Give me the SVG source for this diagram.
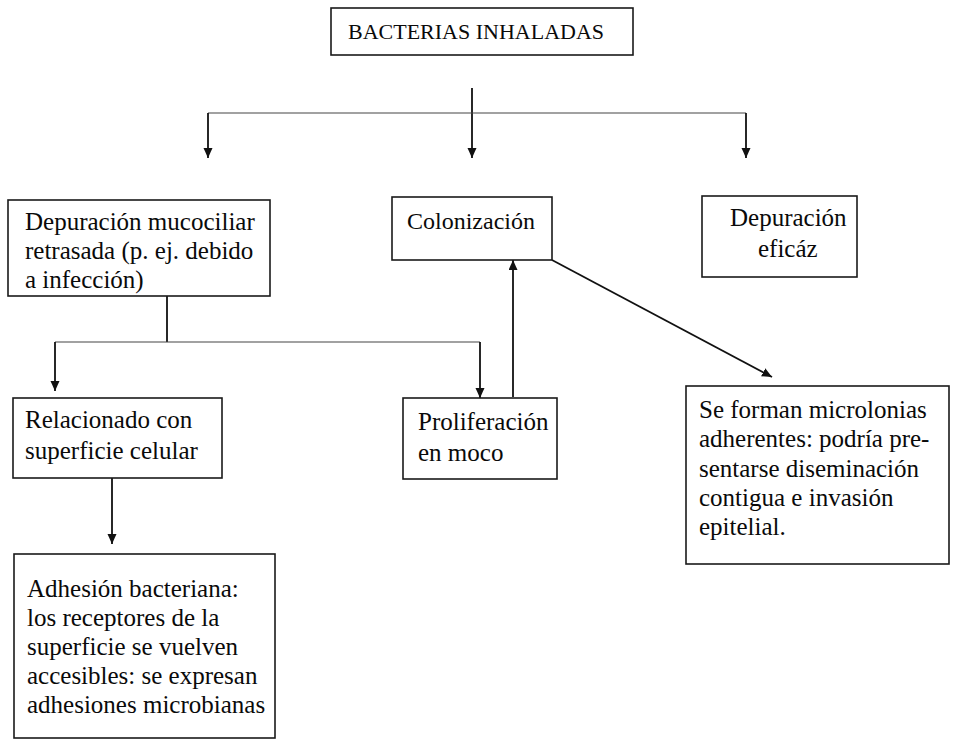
<svg xmlns="http://www.w3.org/2000/svg" width="954" height="744" viewBox="0 0 954 744">
<style>
.box{fill:#fff;stroke:#1a1a1a;stroke-width:1.6}
.t{font-family:"Liberation Serif","Times New Roman",serif;font-size:25px;fill:#0a0a0a}
.title{font-family:"Liberation Serif","Times New Roman",serif;font-size:22px;fill:#0a0a0a}
.c{fill:none;stroke:#111;stroke-width:1.8}
.h{fill:none;stroke:#444;stroke-width:1.1}
</style>
<defs>
<marker id="ah" markerUnits="userSpaceOnUse" markerWidth="10" markerHeight="10" refX="10" refY="4.5" orient="auto">
<path d="M0,0 L10,4.5 L0,9 z" fill="#111"/>
</marker>
</defs>
<rect width="954" height="744" fill="#fff"/>
<g id="connectors">
<line class="c" x1="472" y1="88" x2="472" y2="158" marker-end="url(#ah)"/>
<line class="h" x1="208" y1="113" x2="746" y2="113"/>
<line class="c" x1="208" y1="113" x2="208" y2="158" marker-end="url(#ah)"/>
<line class="c" x1="746" y1="113" x2="746" y2="158" marker-end="url(#ah)"/>
<line class="c" x1="167" y1="296" x2="167" y2="342"/>
<line class="h" x1="55" y1="342" x2="480" y2="342"/>
<line class="c" x1="55" y1="342" x2="55" y2="391" marker-end="url(#ah)"/>
<line class="c" x1="480" y1="342" x2="480" y2="398" marker-end="url(#ah)"/>
<line class="c" x1="513" y1="397" x2="513" y2="260" marker-end="url(#ah)"/>
<line class="c" x1="552" y1="260" x2="772" y2="377" marker-end="url(#ah)"/>
<line class="c" x1="112" y1="478" x2="112" y2="544" marker-end="url(#ah)"/>
</g>
<g id="bacterias">
<rect class="box" x="331" y="8" width="302" height="47"/>
<text class="title" x="348" y="39">BACTERIAS INHALADAS</text>
</g>
<g id="depuracion-mucociliar">
<rect class="box" x="8" y="200" width="262" height="96"/>
<text class="t" x="25" y="230">Depuración mucociliar</text>
<text class="t" x="25" y="259">retrasada (p. ej. debido</text>
<text class="t" x="25" y="288">a infección)</text>
</g>
<g id="colonizacion">
<rect class="box" x="392" y="197" width="160" height="63"/>
<text class="t" x="407" y="229" style="font-size:24px">Colonización</text>
</g>
<g id="depuracion-eficaz">
<rect class="box" x="702" y="196" width="155" height="81"/>
<text class="t" x="730" y="226">Depuración</text>
<text class="t" x="758" y="257">eficáz</text>
</g>
<g id="relacionado">
<rect class="box" x="13" y="398" width="209" height="80"/>
<text class="t" x="25" y="428">Relacionado con</text>
<text class="t" x="25" y="459">superficie celular</text>
</g>
<g id="proliferacion">
<rect class="box" x="403" y="398" width="154" height="81"/>
<text class="t" x="418" y="430">Proliferación</text>
<text class="t" x="418" y="461">en moco</text>
</g>
<g id="microcolonias">
<rect class="box" x="686" y="386" width="263" height="178"/>
<text class="t" x="699" y="418">Se forman microlonias</text>
<text class="t" x="699" y="447">adherentes: podría pre-</text>
<text class="t" x="699" y="477">sentarse diseminación</text>
<text class="t" x="699" y="506">contigua e invasión</text>
<text class="t" x="699" y="535">epitelial.</text>
</g>
<g id="adhesion">
<rect class="box" x="14" y="554" width="261" height="184"/>
<text class="t" x="27" y="597">Adhesión bacteriana:</text>
<text class="t" x="27" y="626">los receptores de la</text>
<text class="t" x="27" y="655">superficie se vuelven</text>
<text class="t" x="27" y="684">accesibles: se expresan</text>
<text class="t" x="27" y="713">adhesiones microbianas</text>
</g>
</svg>
